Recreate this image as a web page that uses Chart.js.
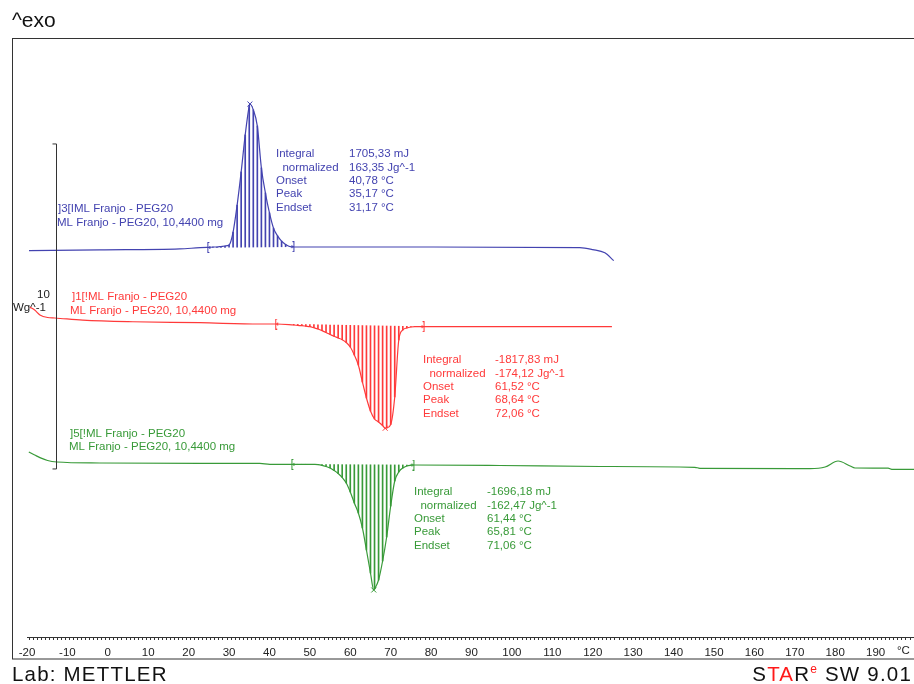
<!DOCTYPE html>
<html>
<head>
<meta charset="utf-8">
<title>DSC - PEG20</title>
<script src="https://cdn.jsdelivr.net/npm/chart.js@4.4.1/dist/chart.umd.min.js"></script>
<style>
  html, body { margin: 0; padding: 0; background: #fff; }
  #wrap { width: 914px; height: 684px; }
</style>
</head>
<body>
<div id="wrap"><canvas id="dsc" width="914" height="684"></canvas></div>
<script>
// --- data: temperature (°C) / heat flow (Wg^-1, curves shifted) ---
const blueT = [-19.5, -2.0, 17.8, 24.5, 25, 26, 27, 28, 29, 30, 31, 32, 33, 34, 35, 35.17, 36, 37, 38, 39, 40,
  41, 42, 43, 44, 45, 46, 72.3, 116.8, 120, 123, 125.2];
const blueY = [11.886, 11.91, 11.94, 11.985, 11.985, 12.0, 12.0, 12.015, 12.03, 12.06, 12.46, 13.29, 14.31, 15.45,
  16.34, 16.40, 16.22, 15.72, 14.43, 13.66, 13.05, 12.58, 12.34, 12.18, 12.08, 12.015, 12.0, 12.0, 11.98, 11.92,
  11.82, 11.58];

const redT = [-19.3, -18.1, -16.8, -14.9, -13.1, -6.2, 6.2, 22.8, 37.6, 41.8, 46, 47, 48, 49, 50, 51, 52, 53, 54,
  55, 56, 57, 58, 59, 60, 61, 62, 63, 64, 65, 66, 67, 68, 68.64, 69, 70, 71, 72, 73, 74, 75, 76, 77, 78, 97, 124.75];
const redY = [10.15, 10.06, 9.91, 9.83, 9.815, 9.75, 9.70, 9.67, 9.63, 9.63, 9.60, 9.591, 9.578, 9.563, 9.548,
  9.514, 9.477, 9.425, 9.369, 9.308, 9.252, 9.2, 9.148, 9.062, 8.923, 8.677, 8.369, 7.846, 7.354, 6.954, 6.708,
  6.615, 6.508, 6.422, 6.431, 6.538, 7.385, 9.138, 9.446, 9.508, 9.538, 9.548, 9.548, 9.548, 9.548, 9.548];

const greenT = [-19.55, -18.1, -16.8, -14.9, -12.6, -2.0, 22.8, 37.6, 40.1, 45.8, 46, 47, 48, 49, 50, 51, 52, 53,
  54, 55, 56, 57, 58, 59, 60, 61, 62, 63, 64, 65, 65.81, 66, 67, 68, 69, 70, 71, 72, 73, 74, 75, 75.5, 97, 121.8,
  145.3, 146.5, 173.8, 177.5, 180.7, 183.7, 184.9, 193.1, 194, 199.5];
const greenY = [5.69, 5.60, 5.52, 5.43, 5.385, 5.354, 5.34, 5.34, 5.31, 5.31, 5.314, 5.314, 5.314, 5.314, 5.314,
  5.311, 5.305, 5.283, 5.246, 5.2, 5.123, 5.031, 4.908, 4.738, 4.462, 4.123, 3.815, 3.354, 2.677, 1.969, 1.446,
  1.477, 1.754, 2.338, 3.077, 4.031, 4.8, 5.077, 5.2, 5.262, 5.286, 5.292, 5.277, 5.246, 5.222, 5.19, 5.178, 5.23,
  5.415, 5.26, 5.2, 5.193, 5.16, 5.16];

// integration limits [T, y] and peak positions
const blueLimits = [[25.0, 11.985], [45.8, 12.01]];
const redLimits = [[41.8, 9.63], [78.0, 9.548]];
const greenLimits = [[45.8, 5.31], [75.5, 5.292]];
const bluePeak = [35.17, 16.40];
const redPeak = [68.64, 6.422];
const greenPeak = [65.81, 1.446];

// scale bar: 10 Wg^-1
const scaleBarT = -12.9;
const scaleBarRange = [5.17, 15.17];

const tableLabels = ["Integral", "  normalized", "Onset", "Peak", "Endset"];
const blueValues = ["1705,33 mJ", "163,35 Jg^-1", "40,78 °C", "35,17 °C", "31,17 °C"];
const redValues = ["-1817,83 mJ", "-174,12 Jg^-1", "61,52 °C", "68,64 °C", "72,06 °C"];
const greenValues = ["-1696,18 mJ", "-162,47 Jg^-1", "61,44 °C", "65,81 °C", "71,06 °C"];
const blueName = ["]3[IML Franjo - PEG20", "ML Franjo - PEG20, 10,4400 mg"];
const redName = ["]1[!ML Franjo - PEG20", "ML Franjo - PEG20, 10,4400 mg"];
const greenName = ["]5[!ML Franjo - PEG20", "ML Franjo - PEG20, 10,4400 mg"];

const BLUE = "#4343b0";
const RED = "#ff3a3a";
const GREEN = "#389a38";
const FONT = "'Liberation Sans', Arial, sans-serif";

function points(ts, ys) {
  return ts.map((t, i) => ({ x: t, y: ys[i] }));
}

// vertical hatch lines (1 °C apart) between curve and integration baseline
function hatch(ts, ys, limits) {
  const [[t0, y0], [t1, y1]] = limits;
  const out = [];
  ts.forEach((t, i) => {
    if (Number.isInteger(t) && t >= t0 && t <= t1) {
      const base = y0 + (t - t0) * (y1 - y0) / (t1 - t0);
      out.push({ x: t, y: [base, ys[i]] });
    }
  });
  return out;
}

// little "[" / "]" glyphs used as point styles for the integration limits
function bracket(color, left) {
  const c = document.createElement("canvas");
  c.width = 7; c.height = 11;
  const g = c.getContext("2d");
  g.fillStyle = color;
  const vx = left ? 2 : 4;
  const dir = left ? 1 : -1;
  g.fillRect(vx, 0, 1, 11);
  g.fillRect(left ? vx : vx - 1, 0, 2, 1);
  g.fillRect(left ? vx : vx - 1, 10, 2, 1);
  g.fillRect(left ? vx + 1 : vx - 2, 5, 2, 1);
  g.fillRect(vx + dir * 2, 4, 1, 3);
  return c;
}

function curve(ts, ys, color) {
  return {
    type: "line", data: points(ts, ys), borderColor: color, borderWidth: 1.2,
    pointRadius: 0, cubicInterpolationMode: "monotone", fill: false, order: 1
  };
}

function hatchSet(ts, ys, limits, color) {
  return {
    type: "bar", data: hatch(ts, ys, limits), backgroundColor: color, borderWidth: 0,
    barThickness: 1, grouped: false, order: 2
  };
}

function marks(limits, peak, color) {
  return [
    {
      type: "scatter", data: limits.map(l => ({ x: l[0], y: l[1] })),
      pointStyle: [bracket(color, true), bracket(color, false)], order: 0
    },
    {
      type: "scatter", data: [{ x: peak[0], y: peak[1] }], pointStyle: "crossRot",
      pointRadius: 3.5, borderColor: color, borderWidth: 1, order: 0
    }
  ];
}

function text(ctx, s, x, y, color, size) {
  ctx.font = (size || 11.5) + "px " + FONT;
  ctx.fillStyle = color;
  ctx.textBaseline = "middle";
  ctx.textAlign = "left";
  ctx.fillText(s, x, y);
}

function table(ctx, x, y, xv, values, color) {
  tableLabels.forEach((l, i) => {
    text(ctx, l, x, y + i * 13.4, color);
    text(ctx, values[i], xv, y + i * 13.4, color);
  });
}

const decorations = {
  id: "decorations",
  afterDraw(chart) {
    const ctx = chart.ctx;
    const xs = chart.scales.x, ys = chart.scales.y;
    ctx.save();
    // frame
    ctx.strokeStyle = "#333";
    ctx.lineWidth = 1;
    ctx.strokeRect(12.5, 38.5, 920, 620.5);

    // scale bar
    const bx = Math.round(xs.getPixelForValue(scaleBarT)) + 0.5;
    const bTop = ys.getPixelForValue(scaleBarRange[1]);
    const bBot = ys.getPixelForValue(scaleBarRange[0]);
    ctx.beginPath();
    ctx.moveTo(bx - 4, bTop); ctx.lineTo(bx, bTop); ctx.lineTo(bx, bBot); ctx.lineTo(bx - 4, bBot);
    ctx.strokeStyle = "#333";
    ctx.stroke();
    text(ctx, "10", 37, 295, "#222");
    text(ctx, "Wg^-1", 13, 308, "#222");

    // sample names
    text(ctx, blueName[0], 58, 209, BLUE);
    text(ctx, blueName[1], 57, 223, BLUE);
    text(ctx, redName[0], 72, 297, RED);
    text(ctx, redName[1], 70, 311, RED);
    text(ctx, greenName[0], 70, 434, GREEN);
    text(ctx, greenName[1], 69, 447, GREEN);

    // integration results
    table(ctx, 276, 154, 349, blueValues, BLUE);
    table(ctx, 423, 360, 495, redValues, RED);
    table(ctx, 414, 492, 487, greenValues, GREEN);

    // unit of the temperature axis
    text(ctx, "°C", 897, 651, "#222", 11.5);

    // header / footer
    text(ctx, "^exo", 12, 21, "#111", 21);
    ctx.letterSpacing = "1.2px";
    text(ctx, "Lab: METTLER", 12, 675, "#111", 20.5);
    const parts = [["S", "#111", 20.5, 0], ["TA", "#ff1a1a", 20.5, 0], ["R", "#111", 20.5, 0],
      ["e", "#ff1a1a", 12, -5], [" SW 9.01", "#111", 20.5, 0]];
    let w = 0;
    parts.forEach(p => { ctx.font = p[2] + "px " + FONT; w += ctx.measureText(p[0]).width; });
    let x = 912 - w;
    parts.forEach(p => {
      text(ctx, p[0], x, 675 + p[3], p[1], p[2]);
      x += ctx.measureText(p[0]).width;
    });
    ctx.restore();
  }
};

new Chart(document.getElementById("dsc"), {
  type: "line",
  data: {
    datasets: [
      curve(blueT, blueY, BLUE),
      curve(redT, redY, RED),
      curve(greenT, greenY, GREEN),
      hatchSet(blueT, blueY, blueLimits, BLUE),
      hatchSet(redT, redY, redLimits, RED),
      hatchSet(greenT, greenY, greenLimits, GREEN),
      ...marks(blueLimits, bluePeak, BLUE),
      ...marks(redLimits, redPeak, RED),
      ...marks(greenLimits, greenPeak, GREEN)
    ]
  },
  options: {
    responsive: false,
    animation: false,
    layout: { autoPadding: false, padding: { left: 27, right: 0, top: 38, bottom: 22 } },
    plugins: { legend: { display: false }, tooltip: { enabled: false }, title: { display: false } },
    scales: {
      x: {
        type: "linear",
        min: -20,
        max: 199.5,
        offset: false,
        afterFit: s => { s.height = 25; s.paddingLeft = 0; s.paddingRight = 0; },
        border: { display: true, color: "#333", width: 1 },
        grid: { display: true, drawOnChartArea: false, drawTicks: true, tickLength: 3, color: "#333" },
        ticks: {
          stepSize: 1,
          autoSkip: false,
          maxRotation: 0,
          minRotation: 0,
          padding: 6,
          color: "#222",
          font: { family: FONT, size: 11.5 },
          callback: v => (Number.isInteger(v) && v % 10 === 0) ? String(v) : ""
        }
      },
      y: { type: "linear", display: false, min: 0, max: 18.43 }
    }
  },
  plugins: [decorations]
});
</script>
</body>
</html>
